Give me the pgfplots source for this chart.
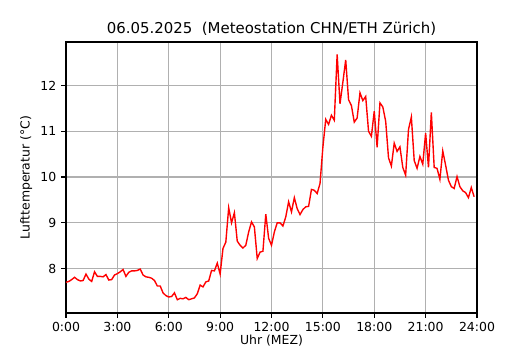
\documentclass[border=0pt]{standalone}
\usepackage{pgfplots}
\pgfplotsset{compat=1.18}
\usepackage{fontspec}
\setmainfont{DejaVu Sans}
\definecolor{gridgray}{HTML}{B0B0B0}
\begin{document}
\begin{tikzpicture}
\path[use as bounding box] (-47.52bp,-26.64bp) rectangle (334.08bp,225.36bp);
\begin{axis}[
  scale only axis,
  width=295.92bp, height=195.12bp,
  xmin=0, xmax=1440, ymin=7.03, ymax=12.95,
  xtick={0,180,360,540,720,900,1080,1260,1440},
  xticklabels={0:00,3:00,6:00,9:00,12:00,15:00,18:00,21:00,24:00},
  ytick={8,9,10,11,12},
  /pgf/number format/assume math mode=true,
  tick label style={font=\fontsize{9}{11}\selectfont},
  label style={font=\fontsize{9}{11}\selectfont},
  title style={font=\fontsize{10.8}{13}\selectfont, yshift=-4.5bp},
  title={06.05.2025\ \ (Meteostation CHN/ETH Zürich)},
  xlabel={Uhr (MEZ)},
  ylabel={Lufttemperatur (°C)},
  xlabel style={yshift=4.5bp},
  ylabel style={yshift=-1bp},
  grid=major,
  major grid style={gridgray, line width=0.8bp},
  axis line style={black, line width=0.8bp},
  tick align=outside,
  tick pos=left,
  major tick length=3.5bp,
  tick style={black, line width=0.8bp},
]
\addplot[red, line width=1bp, mark=none] table {
x y
0 7.70
10 7.72
20 7.76
30 7.81
40 7.76
50 7.73
60 7.74
70 7.88
80 7.77
90 7.72
100 7.93
110 7.83
120 7.83
130 7.82
140 7.87
150 7.75
160 7.76
170 7.86
180 7.89
190 7.93
200 7.98
210 7.83
220 7.92
230 7.95
240 7.95
250 7.96
260 7.99
270 7.86
280 7.82
290 7.81
300 7.79
310 7.74
320 7.62
330 7.62
340 7.47
350 7.41
360 7.38
370 7.39
380 7.47
390 7.32
400 7.35
410 7.34
420 7.37
430 7.32
440 7.34
450 7.36
460 7.45
470 7.64
480 7.60
490 7.71
500 7.73
510 7.96
520 7.95
530 8.12
540 7.88
550 8.44
560 8.58
570 9.33
580 9.00
590 9.22
600 8.60
610 8.51
620 8.45
630 8.51
640 8.80
650 9.02
660 8.91
670 8.22
680 8.36
690 8.38
700 9.19
710 8.66
720 8.51
730 8.80
740 9.00
750 9.00
760 8.93
770 9.13
780 9.46
790 9.24
800 9.55
810 9.31
820 9.18
830 9.29
840 9.35
850 9.36
860 9.73
870 9.71
880 9.64
890 9.86
900 10.65
910 11.26
920 11.15
930 11.35
940 11.24
950 12.68
960 11.60
970 12.07
980 12.56
990 11.69
1000 11.56
1010 11.20
1020 11.29
1030 11.84
1040 11.67
1050 11.76
1060 11.00
1070 10.89
1080 11.44
1090 10.65
1100 11.62
1110 11.53
1120 11.22
1130 10.42
1140 10.24
1150 10.74
1160 10.56
1170 10.66
1180 10.21
1190 10.04
1200 11.04
1210 11.31
1220 10.36
1230 10.19
1240 10.45
1250 10.28
1260 10.96
1270 10.21
1280 11.41
1290 10.21
1300 10.19
1310 9.95
1320 10.57
1330 10.26
1340 9.93
1350 9.79
1360 9.75
1370 10.01
1380 9.79
1390 9.70
1400 9.66
1410 9.55
1420 9.77
1430 9.57
};
\end{axis}
\end{tikzpicture}
\end{document}
